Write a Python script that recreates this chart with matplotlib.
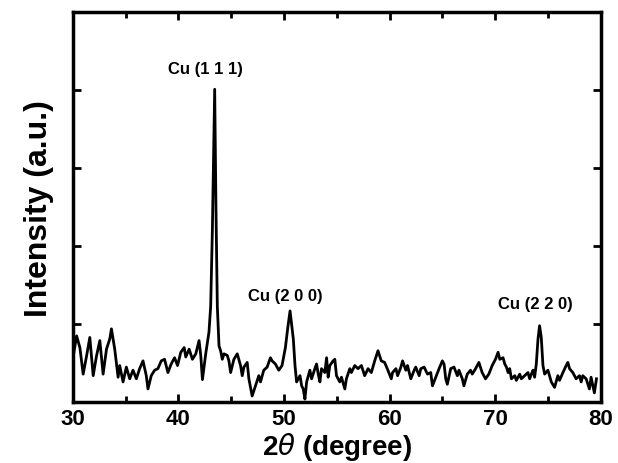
import matplotlib
matplotlib.use("Agg")
import matplotlib.pyplot as plt
from matplotlib.ticker import MultipleLocator

plt.rcParams['font.family'] = ['Liberation Sans', 'DejaVu Sans']
plt.rcParams['mathtext.fontset'] = 'dejavusans'

# XRD pattern (2-theta in degrees, intensity in a.u.)
two_theta = [
    30.03, 30.35, 30.66, 30.97, 31.29, 31.60, 31.92, 32.23, 32.55, 32.86,
    33.18, 33.49, 33.65, 33.96, 34.28, 34.43, 34.75, 35.06, 35.38, 35.69,
    36.01, 36.32, 36.64, 36.95, 37.11, 37.42, 37.74, 38.05, 38.37, 38.68,
    39.00, 39.31, 39.63,
    39.91, 40.22, 40.54, 40.69, 41.01, 41.32, 41.64, 41.95, 42.11, 42.27,
    42.58, 42.89, 43.05, 43.21, 43.43, 43.55, 43.68, 43.84, 43.99, 44.15,
    44.31, 44.62, 44.78, 44.94, 45.25, 45.57, 45.88, 46.04, 46.20, 46.51,
    46.67, 46.98, 47.30, 47.61, 47.77, 48.08, 48.40, 48.71, 48.87, 49.18,
    49.50, 49.81,
    50.13, 50.35, 50.57, 50.88, 51.04, 51.19, 51.51, 51.67, 51.82, 51.98,
    52.14, 52.45, 52.61, 52.92, 53.08, 53.24, 53.40, 53.55, 53.87, 54.03,
    54.18, 54.34, 54.65, 54.81, 54.97, 55.28, 55.44, 55.76, 55.91, 56.23,
    56.38, 56.70, 57.01, 57.33, 57.64, 57.96, 58.27, 58.59, 58.90, 59.21,
    59.53, 59.84,
    60.16, 60.28, 60.60, 60.76, 61.07, 61.23, 61.54, 61.70, 62.01, 62.33,
    62.48, 62.80, 62.96, 63.27, 63.59, 63.90, 64.06, 64.37, 64.69, 65.00,
    65.16, 65.32, 65.47, 65.79, 66.10, 66.42, 66.57, 66.89, 67.04, 67.36,
    67.67, 67.83, 68.15, 68.46, 68.77, 69.09, 69.40, 69.72, 70.03,
    70.28, 70.44, 70.75, 70.91, 71.07, 71.23, 71.38, 71.54, 71.86, 72.01,
    72.33, 72.48, 72.80, 73.11, 73.27, 73.43, 73.59, 73.74, 73.90, 74.06,
    74.21, 74.37, 74.53, 74.69, 75.00, 75.32, 75.63, 75.94, 76.10, 76.42,
    76.73, 76.89, 77.05, 77.36, 77.67, 77.99, 78.15, 78.30, 78.62, 78.93,
    79.09, 79.40, 79.60,
]
intensity = [
    0.59, 0.85, 0.70, 0.36, 0.59, 0.83, 0.34, 0.59, 0.79, 0.36,
    0.68, 0.81, 0.94, 0.68, 0.32, 0.47, 0.26, 0.45, 0.30, 0.41,
    0.30, 0.43, 0.53, 0.34, 0.17, 0.34, 0.41, 0.43, 0.53, 0.55,
    0.38, 0.49, 0.57,
    0.47, 0.64, 0.70, 0.58, 0.68, 0.55, 0.62, 0.79, 0.60, 0.29,
    0.62, 0.90, 1.23, 2.20, 4.01, 2.50, 1.23, 0.72, 0.66, 0.55,
    0.62, 0.60, 0.53, 0.38, 0.55, 0.62, 0.47, 0.34, 0.45, 0.51,
    0.30, 0.08, 0.21, 0.34, 0.26, 0.41, 0.45, 0.57, 0.53, 0.49,
    0.41, 0.47,
    0.70, 0.95, 1.17, 0.81, 0.47, 0.26, 0.34, 0.21, 0.17, 0.04,
    0.26, 0.41, 0.30, 0.43, 0.49, 0.36, 0.26, 0.43, 0.38, 0.57,
    0.32, 0.47, 0.53, 0.55, 0.34, 0.26, 0.32, 0.17, 0.30, 0.43,
    0.38, 0.47, 0.43, 0.47, 0.34, 0.43, 0.38, 0.53, 0.66, 0.53,
    0.51, 0.41,
    0.30, 0.38, 0.43, 0.34, 0.45, 0.53, 0.41, 0.47, 0.30, 0.41,
    0.45, 0.34, 0.43, 0.45, 0.36, 0.38, 0.21, 0.32, 0.43, 0.53,
    0.49, 0.30, 0.23, 0.43, 0.45, 0.34, 0.41, 0.30, 0.21, 0.36,
    0.41, 0.36, 0.43, 0.51, 0.38, 0.30, 0.36, 0.47, 0.55,
    0.64, 0.55, 0.57, 0.49, 0.45, 0.38, 0.43, 0.30, 0.34, 0.28,
    0.36, 0.30, 0.34, 0.38, 0.30, 0.36, 0.41, 0.32, 0.49, 0.81,
    0.98, 0.83, 0.47, 0.36, 0.41, 0.26, 0.19, 0.34, 0.28, 0.38,
    0.47, 0.51, 0.43, 0.38, 0.30, 0.34, 0.26, 0.34, 0.30, 0.17,
    0.32, 0.12, 0.30,
]

peak_labels = ['Cu (1 1 1)', 'Cu (2 0 0)', 'Cu (2 2 0)']
label_x = [42.6, 50.1, 73.8]
label_y = [4.27, 1.37, 1.27]

fig = plt.figure(figsize=(6.18, 4.64), dpi=100)
ax = fig.add_axes([0.118, 0.131, 0.854, 0.841])

ax.plot(two_theta, intensity, color='black', linewidth=2.0)

for text, x, y in zip(peak_labels, label_x, label_y):
    ax.text(x, y, text, ha='center', va='center', fontsize=12, fontweight='bold')

ax.set_xlim(30, 80)
ax.set_ylim(0, 5)
ax.xaxis.set_major_locator(MultipleLocator(10))
ax.xaxis.set_minor_locator(MultipleLocator(5))
ax.set_yticks([1, 2, 3, 4])
ax.set_yticklabels([])

ax.tick_params(which='both', direction='in', top=True, right=True, width=2)
ax.tick_params(which='major', length=6)
ax.tick_params(which='minor', length=4)
ax.tick_params(axis='x', labelsize=16, pad=4)
for lab in ax.get_xticklabels():
    lab.set_fontweight('bold')

for spine in ax.spines.values():
    spine.set_linewidth(2.5)

ax.set_xlabel(r'2$\theta$ (degree)', fontsize=20, fontweight='bold', labelpad=1)
ax.set_ylabel('Intensity (a.u.)', fontsize=23, fontweight='bold', labelpad=10)

fig.savefig('out.png', dpi=100)
